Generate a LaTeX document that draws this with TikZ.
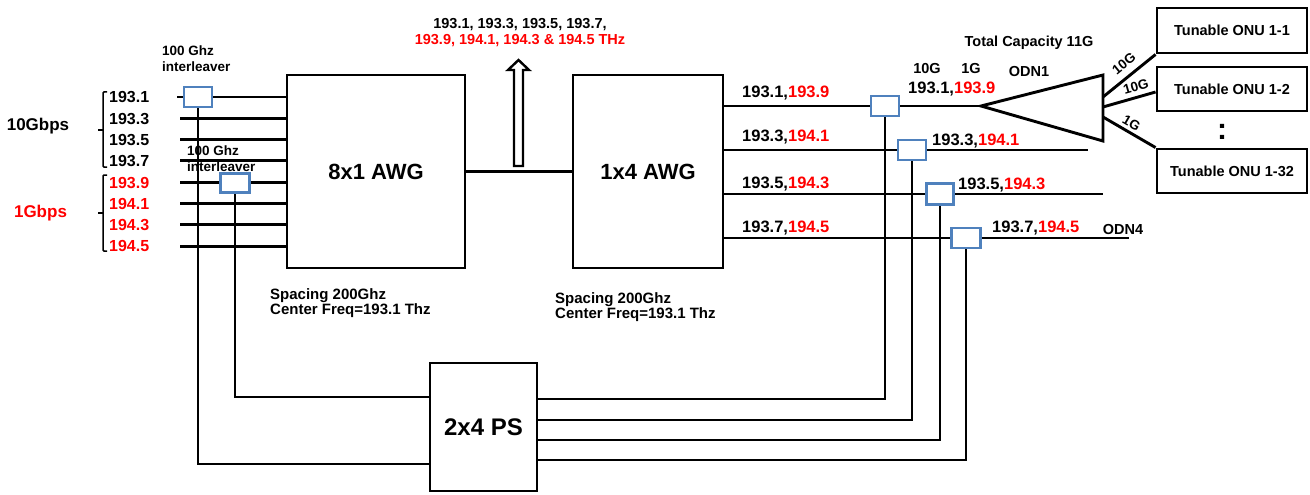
\documentclass[tikz,border=0pt]{standalone}
\usepackage{fontspec}
\setmainfont{Liberation Sans}
\usetikzlibrary{calc}
\definecolor{ilblue}{RGB}{79,129,189}
\definecolor{myred}{RGB}{255,0,0}
\newcommand{\fsz}[1]{\fontsize{#1}{#1}\selectfont\bfseries}
\begin{document}
\begin{tikzpicture}[x=1pt,y=-1pt,
  wire/.style={line width=2.9pt},
  blk/.style={draw, line width=2.9pt, fill=white, rectangle, inner sep=0pt},
  ilbox/.style={draw=ilblue, line width=2.5pt, fill=white, rectangle, inner sep=0pt},
  brk/.style={line width=1.5pt},
  txt/.style={inner sep=0pt},
  flbl/.style={txt, anchor=base west, font=\fsz{16}},
  rlbl/.style={txt, anchor=base west, font=\fsz{16.5}},
  glbl/.style={inner sep=0pt, font=\fsz{13.5}}
]
\useasboundingbox (0,0) rectangle (1310,495);

% main blocks
\node[blk, minimum width=178pt, minimum height=193pt, font=\fsz{22}] (awg8) at (376,171.5) {8x1 AWG};
\node[blk, minimum width=150pt, minimum height=193pt, font=\fsz{22}] (awg4) at (648,171.5) {1x4 AWG};
\node[blk, minimum width=107pt, minimum height=128pt, font=\fsz{24}] (ps) at (483.5,427) {2x4 PS};

% input wavelengths
\coordinate (in0) at (177,97);
\foreach \i in {1,...,7} \coordinate (in\i) at (180,{97+21.3*\i});
\foreach \i in {0,...,7} \draw[wire] (in\i) -- (awg8.west |- in\i);

\foreach \i/\t/\c in {0/193.1/black,1/193.3/black,2/193.5/black,3/193.7/black,4/193.9/myred,5/194.1/myred,6/194.3/myred,7/194.5/myred}
  \node[flbl, text=\c] (f\i) at (109,{97+21.3*\i+5.8}) {\t};

% brackets
\draw[brk, rounded corners=1pt] (107,92) -- (103,92) -- (103,167) -- (107,167);
\draw[brk] (103,130) -- (98,130);
\draw[brk, rounded corners=1pt] (107,175) -- (103,175) -- (103,251) -- (107,251);
\draw[brk] (103,213) -- (98,213);
\node[txt, anchor=base, font=\fsz{17}] (g10) at (38,130) {10Gbps};
\node[txt, anchor=base, font=\fsz{17}, text=myred] (g1) at (40.5,217) {1Gbps};

% PS connection points
\coordinate (psL1) at (ps.west |- 0,397);
\coordinate (psL2) at (ps.west |- 0,464);
\coordinate (psR1) at (ps.east |- 0,399);
\coordinate (psR2) at (ps.east |- 0,420);
\coordinate (psR3) at (ps.east |- 0,440);
\coordinate (psR4) at (ps.east |- 0,460);

% interleavers
\coordinate (il1c) at (198,97);
\coordinate (il2c) at (235,183);
\draw[wire] (il1c) |- (psL2);
\draw[wire] (il2c) |- (psL1);
\node[ilbox, minimum width=28pt, minimum height=20pt] (il1) at (il1c) {};
\node[ilbox, minimum width=29pt, minimum height=19pt] (il2) at (il2c) {};
\node[txt, anchor=north west, align=left, font=\fontsize{13.5}{16}\selectfont\bfseries] (il1t) at (162,46) {100 Ghz\\interleaver};
\node[txt, anchor=north west, align=left, font=\fontsize{13.5}{16}\selectfont\bfseries] (il2t) at (187,146) {100 Ghz\\interleaver};

% AWG to AWG and hollow arrow
\draw[wire] (awg8) -- (awg4);
\draw[line width=2.4pt, line join=miter] (514,166) -- (514,70) -- (508,70) -- (518.5,60) -- (529,70) -- (523,70) -- (523,166) -- cycle;
\node[txt, anchor=north, align=center, font=\fontsize{14.5}{16}\selectfont\bfseries] (freqs) at (520,18) {193.1, 193.3, 193.5, 193.7,\\\textcolor{myred}{193.9, 194.1, 194.3 \& 194.5 THz}};

% spacing notes
\node[txt, anchor=north west, align=left, font=\fontsize{15}{15.5}\selectfont\bfseries] (sp1) at (270,288) {Spacing 200Ghz\\Center Freq=193.1 Thz};
\node[txt, anchor=north west, align=left, font=\fontsize{15}{15.5}\selectfont\bfseries] (sp2) at (555,292) {Spacing 200Ghz\\Center Freq=193.1 Thz};

% splitter boxes and outputs
\coordinate (s1c) at (885,106);
\coordinate (s2c) at (912,150);
\coordinate (s3c) at (940,194);
\coordinate (s4c) at (966,238);
\coordinate (tri) at (981,106);
\coordinate (trit) at (1103,75);
\coordinate (trib) at (1103,141);
\coordinate (e2) at (1088,150);
\coordinate (e3) at (1103,194);
\coordinate (e4) at (1129,238);
\draw[wire] (awg4.east |- s1c) -- (tri);
\draw[wire] (awg4.east |- s2c) -- (e2);
\draw[wire] (awg4.east |- s3c) -- (e3);
\draw[wire] (awg4.east |- s4c) -- (e4);
\draw[wire] (psR1) -| (s1c);
\draw[wire] (psR2) -| (s2c);
\draw[wire] (psR3) -| (s3c);
\draw[wire] (psR4) -| (s4c);
\node[ilbox, minimum width=28pt, minimum height=20pt] (s1) at (s1c) {};
\node[ilbox, minimum width=28pt, minimum height=20pt] (s2) at (s2c) {};
\node[ilbox, minimum width=27pt, minimum height=21pt] (s3) at (s3c) {};
\node[ilbox, minimum width=29pt, minimum height=20pt] (s4) at (s4c) {};

\node[rlbl] (o1) at (742,98) {193.1,\textcolor{myred}{193.9}};
\node[rlbl] (o2) at (742,141) {193.3,\textcolor{myred}{194.1}};
\node[rlbl] (o3) at (742,188) {193.5,\textcolor{myred}{194.3}};
\node[rlbl] (o4) at (742,232) {193.7,\textcolor{myred}{194.5}};
\node[rlbl] (p1) at (908,94) {193.1,\textcolor{myred}{193.9}};
\node[rlbl] (p2) at (932,146) {193.3,\textcolor{myred}{194.1}};
\node[rlbl] (p3) at (958,189) {193.5,\textcolor{myred}{194.3}};
\node[rlbl] (p4) at (992,232) {193.7,\textcolor{myred}{194.5}};

% splitter triangle
\draw[wire, line join=miter] (tri) -- (trit) -- (trib) -- cycle;
\node[txt, anchor=base, font=\fsz{14.5}] (cap) at (1029,47) {Total Capacity 11G};
\node[txt, anchor=base, font=\fsz{14.5}] (c10) at (927,73.7) {10G};
\node[txt, anchor=base, font=\fsz{14.5}] (c1) at (971,73.7) {1G};
\node[txt, anchor=base, font=\fsz{14.5}] (odn1) at (1029,77) {ODN1};
\node[txt, anchor=base, font=\fsz{14.5}] (odn4) at (1123,234) {ODN4};

% ONUs
\node[blk, minimum width=150pt, minimum height=45pt, font=\fsz{14.5}] (onu1) at (1232,30.5) {Tunable ONU 1-1};
\node[blk, minimum width=150pt, minimum height=44pt, font=\fsz{14.5}] (onu2) at (1232,89) {Tunable ONU 1-2};
\node[blk, minimum width=150pt, minimum height=44pt, font=\fsz{14.5}] (onu3) at (1232,171) {Tunable ONU 1-32};
\node[txt, font=\fsz{30}] (dots) at (1222,132) {:};
\coordinate (tr1) at (1103,97);
\coordinate (tr2) at (1103,107);
\coordinate (tr3) at (1103,117);
\draw[wire] (tr1) -- node[glbl, sloped, above=6.5pt, pos=0.55] (b1) {10G} (onu1.south west);
\draw[wire] (tr2) -- node[glbl, sloped, above=4pt, pos=0.68] (b2) {10G} (onu2.west |- 0,92);
\draw[wire] (tr3) -- node[glbl, sloped, above=2.5pt, pos=0.46] (b3) {1G} (onu3.north west);
\end{tikzpicture}
\end{document}
